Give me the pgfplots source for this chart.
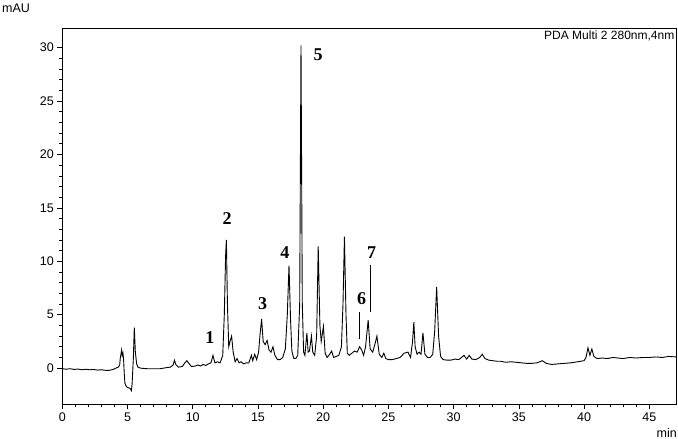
\documentclass[border=0pt]{standalone}
\usepackage{pgfplots}
\pgfplotsset{compat=1.18}
\usepackage{pgfplotstable}
\usepackage{fontspec}
\setmainfont{Liberation Sans}
\newfontfamily\serifb{Liberation Serif}
\pgfplotstableread{
t v
0.0 -0.05
0.3 -0.1
0.6 -0.05
0.9 -0.12
1.2 -0.08
1.5 -0.15
1.8 -0.1
2.1 -0.15
2.4 -0.12
2.7 -0.18
3.0 -0.15
3.3 -0.2
3.6 -0.2
3.9 -0.12
4.1 0.0
4.3 0.1
4.4 0.3
4.45 1.0
4.5 1.3
4.55 1.7
4.6 1.2
4.65 1.4
4.7 0.8
4.75 -0.5
4.8 -1.4
4.9 -1.7
5.0 -1.8
5.1 -1.85
5.2 -1.9
5.3 -2.1
5.35 -1.5
5.45 1.0
5.52 3.8
5.6 1.5
5.7 0.4
5.8 0.1
6.0 0.0
6.5 -0.05
7.0 -0.05
7.5 -0.05
8.0 0.05
8.3 0.1
8.5 0.3
8.6 0.75
8.7 0.35
8.9 0.1
9.2 0.15
9.4 0.5
9.55 0.7
9.7 0.45
9.9 0.15
10.2 0.2
10.4 0.3
10.6 0.2
10.8 0.35
11.0 0.25
11.2 0.4
11.4 0.5
11.55 1.2
11.7 0.5
11.9 0.6
12.1 0.5
12.3 1.2
12.42 5
12.52 10.5
12.58 12.0
12.66 6
12.76 2.0
12.88 2.6
12.98 3.0
13.1 1.5
13.25 0.6
13.4 0.9
13.55 0.5
13.7 0.6
13.9 0.4
14.1 0.5
14.3 0.5
14.5 1.2
14.6 0.7
14.75 1.3
14.9 0.8
15.05 1.5
15.15 3.0
15.28 4.6
15.4 2.5
15.55 2.2
15.7 2.6
15.85 1.7
16.0 1.5
16.15 2.0
16.3 1.2
16.5 0.8
16.7 0.8
16.9 1.0
17.1 1.8
17.25 5
17.38 9.6
17.5 4.5
17.6 1.6
17.75 0.9
17.9 0.9
18.05 1.2
18.2 6
18.3 30.2
18.4 6
18.5 1.5
18.6 1.2
18.75 3.3
18.85 1.5
18.95 1.6
19.1 3.0
19.2 1.5
19.35 1.2
19.5 3.0
19.62 11.4
19.75 4
19.85 2.5
20.02 3.9
20.15 1.4
20.3 1.0
20.5 1.3
20.65 1.6
20.8 1.0
21.0 1.1
21.2 1.2
21.4 2.0
21.52 6
21.63 12.3
21.75 5
21.85 1.4
22.0 1.2
22.2 1.4
22.4 1.6
22.6 1.5
22.8 2.0
22.95 1.7
23.1 1.2
23.25 2.0
23.45 4.5
23.6 1.8
23.8 1.5
24.0 2.4
24.12 3.0
24.3 1.3
24.5 1.0
24.65 1.4
24.8 0.9
25.0 0.8
25.3 0.8
25.6 0.9
25.9 1.0
26.2 1.4
26.5 1.5
26.7 1.0
26.85 2.5
26.95 4.3
27.05 2.0
27.2 1.3
27.35 1.5
27.5 1.3
27.65 3.3
27.8 1.3
28.0 1.0
28.2 1.0
28.4 1.3
28.55 3.5
28.7 7.6
28.85 3.0
29.0 1.1
29.2 0.8
29.5 0.75
29.8 0.75
30.1 0.85
30.4 0.8
30.6 1.0
30.8 1.2
31.0 0.85
31.2 1.2
31.4 0.85
31.7 0.8
32.0 1.0
32.2 1.3
32.4 0.9
32.7 0.75
33.0 0.7
33.3 0.65
33.6 0.65
34.0 0.55
34.4 0.6
34.8 0.55
35.2 0.5
35.6 0.45
36.0 0.45
36.4 0.5
36.8 0.7
37.1 0.45
37.5 0.35
38.0 0.4
38.5 0.45
39.0 0.5
39.5 0.6
40.0 0.7
40.15 1.0
40.3 1.9
40.45 1.2
40.6 1.8
40.75 1.1
41.0 0.9
41.4 0.95
41.8 0.9
42.2 1.0
42.6 0.95
43.0 0.9
43.5 1.0
44.0 0.95
44.5 1.0
45.0 1.0
45.5 1.05
46.0 1.0
46.5 1.1
47.05 1.05
}\chrom
\begin{document}
\begin{tikzpicture}
\begin{axis}[
  at={(62.3pt,34.5pt)}, anchor=south west,
  scale only axis, width=613.7pt, height=375.6pt,
  xmin=0, xmax=47.05, ymin=-3.4, ymax=31.75,
  xtick={0,5,...,45}, ytick={0,5,...,30},
  minor tick num=4,
  tick align=outside, tick pos=left,
  major tick length=5pt, minor tick length=3pt,
  every tick/.style={black, line width=0.6pt},
  axis line style={line width=0.8pt},
  ticklabel style={font=\fontsize{12.5}{14}\selectfont},
  /pgf/number format/assume math mode=true,
]
\addplot[black, line width=0.9pt] table[x=t,y=v] {\chrom};
\node[font=\serifb\bfseries\fontsize{18}{20}\selectfont] at (axis cs:11.32,2.9) {1};
\node[font=\serifb\bfseries\fontsize{18}{20}\selectfont] at (axis cs:12.63,13.96) {2};
\node[font=\serifb\bfseries\fontsize{18}{20}\selectfont] at (axis cs:15.36,6.0) {3};
\node[font=\serifb\bfseries\fontsize{18}{20}\selectfont] at (axis cs:17.06,10.8) {4};
\node[font=\serifb\bfseries\fontsize{18}{20}\selectfont] at (axis cs:19.61,29.3) {5};
\node[font=\serifb\bfseries\fontsize{18}{20}\selectfont] at (axis cs:22.95,6.5) {6};
\node[font=\serifb\bfseries\fontsize{18}{20}\selectfont] at (axis cs:23.72,10.8) {7};
\draw[line width=0.8pt] (axis cs:22.75,2.7) -- (axis cs:22.75,5.3);
\draw[line width=0.8pt] (axis cs:23.64,5.3) -- (axis cs:23.64,9.7);
\node[anchor=north east, inner sep=1.5pt, font=\fontsize{12}{14}\selectfont] at (rel axis cs:1,1) {PDA Multi 2 280nm,4nm};
\end{axis}
\node[anchor=west, inner sep=0pt, font=\fontsize{12.5}{14}\selectfont] at (2pt,431pt) {mAU};
\node[anchor=east, inner sep=0pt, font=\fontsize{12.5}{14}\selectfont] at (677pt,6.5pt) {min};
\pgfresetboundingbox
\path (0pt,0pt) rectangle (678pt,439pt);
\end{tikzpicture}
\end{document}
